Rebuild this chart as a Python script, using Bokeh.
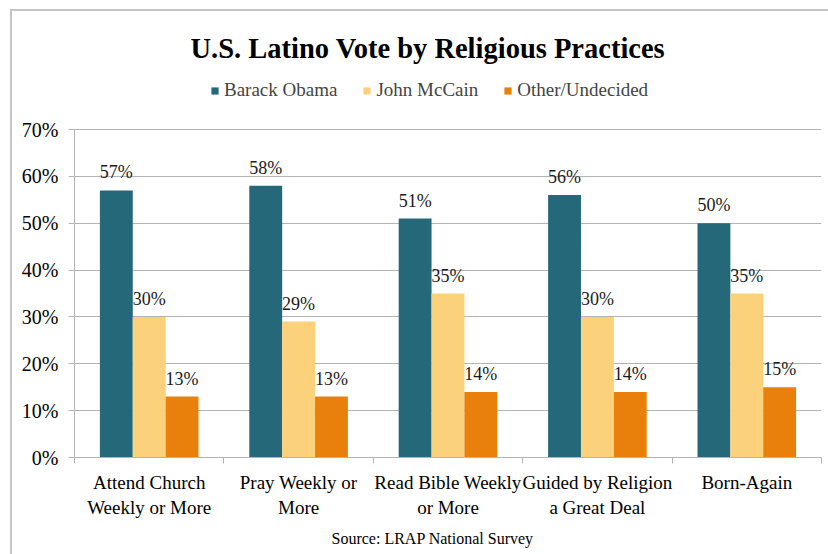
from bokeh.plotting import figure
from bokeh.models import (ColumnDataSource, Range1d, FixedTicker, PrintfTickFormatter,
                          LabelSet, Legend, LegendItem, Title, InlineStyleSheet)
from bokeh.transform import dodge
from bokeh.embed import file_html
from bokeh.resources import INLINE

# ---- data ----
categories = ["Attend Church\nWeekly or More", "Pray Weekly or\nMore",
              "Read Bible Weekly\nor More", "Guided by Religion\na Great Deal",
              "Born-Again"]
series_names = ["Barack Obama", "John McCain", "Other/Undecided"]
obama = [57, 58, 51, 56, 50]
mccain = [30, 29, 35, 30, 35]
other = [13, 13, 14, 14, 15]
y_ticks = [0, 10, 20, 30, 40, 50, 60, 70]
title_text = "U.S. Latino Vote by Religious Practices"
source_text = "Source: LRAP National Survey"

colors = ["#24687A", "#FCD17C", "#E8800B"]
FONT = "Liberation Serif"
GRID = "#B4B4B4"

# ---- layout (pixels) ----
W, H = 828, 554
FRAME_TOP = 63        # frame extends above the 70% line to hold the legend
TOP70 = 129           # pixel row of the 70% gridline
ZERO = 457            # pixel row of the 0% line
y_axis_max = y_ticks[-1]
y_range_end = y_axis_max * (ZERO - FRAME_TOP) / (ZERO - TOP70)

xpos = list(range(1, len(categories) + 1))
src = ColumnDataSource(dict(
    x=xpos,
    obama=obama, mccain=mccain, other=other,
    obama_lbl=[f"{v}%" for v in obama],
    mccain_lbl=[f"{v}%" for v in mccain],
    other_lbl=[f"{v}%" for v in other],
))

# light chart border (top and left edges only), drawn as host background
border_css = InlineStyleSheet(css="""
:host {
  background-color: #FFFFFF;
  background-image: linear-gradient(#C4C4C4, #C4C4C4), linear-gradient(#C4C4C4, #C4C4C4);
  background-position: 10px 9px, 10px 9px;
  background-size: 2px 545px, 818px 2px;
  background-repeat: no-repeat, no-repeat;
}
""")

p = figure(width=W, height=H, output_backend="svg", toolbar_location=None,
           x_range=Range1d(0.5, len(categories) + 0.5), y_range=Range1d(0, y_range_end),
           min_border_left=74, min_border_right=7, min_border_top=FRAME_TOP,
           min_border_bottom=H - ZERO, stylesheets=[border_css])
p.outline_line_color = None
p.background_fill_color = "white"
p.border_fill_alpha = 0

# title
p.title.text = title_text
p.title.text_font = FONT
p.title.text_font_size = "28.5px"
p.title.text_font_style = "bold"
p.title.text_color = "#000000"
p.title.align = "left"
p.title.offset = 116
p.title.standoff = 0

# source note
p.add_layout(Title(text=source_text, align="left", text_font=FONT,
                   text_font_size="16px", text_font_style="normal",
                   text_color="#000000", offset=257, standoff=14), "below")

# bars
fields = ["obama", "mccain", "other"]
offsets = [-0.22, 0.0, 0.22]
renderers = []
for f, off, c in zip(fields, offsets, colors):
    r = p.vbar(x=dodge("x", off), top=f, width=0.22, source=src,
               fill_color=c, line_color=None)
    renderers.append(r)
    lbl = LabelSet(x=dodge("x", off), y=f, text=f + "_lbl", source=src,
                   text_align="center", text_baseline="bottom", y_offset=8,
                   text_font=FONT, text_font_size="18px", text_color="#1a1a1a")
    p.add_layout(lbl)

# legend (inside the upper part of the frame, above the 70% line)
legend = Legend(items=[LegendItem(label=n, renderers=[r]) for n, r in zip(series_names, renderers)],
                orientation="horizontal", location=(136, ZERO - 101),
                glyph_width=9, glyph_height=9, label_standoff=5, spacing=25,
                label_text_font=FONT, label_text_font_size="19px",
                label_height=20, padding=0, margin=0,
                border_line_color=None, background_fill_alpha=0)
p.add_layout(legend, "center")

# y axis
p.yaxis.ticker = FixedTicker(ticks=y_ticks)
p.yaxis.bounds = (0, y_axis_max)
p.yaxis.formatter = PrintfTickFormatter(format="%d%%")
p.yaxis.major_label_text_font = FONT
p.yaxis.major_label_text_font_size = "20px"
p.yaxis.major_label_text_color = "#000000"
p.yaxis.axis_line_color = GRID
p.yaxis.major_tick_line_color = GRID
p.yaxis.major_tick_out = 6
p.yaxis.major_tick_in = 0
p.yaxis.minor_tick_line_color = None
p.yaxis.major_label_standoff = 10

# x axis
p.xaxis.ticker = FixedTicker(ticks=xpos, minor_ticks=[x - 0.5 for x in xpos] + [xpos[-1] + 0.5])
p.xaxis.major_label_overrides = {x: c for x, c in zip(xpos, categories)}
p.xaxis.major_label_text_font = FONT
p.xaxis.major_label_text_font_size = "19px"
p.xaxis.major_label_text_color = "#000000"
p.xaxis.axis_line_color = GRID
p.xaxis.major_tick_line_color = None
p.xaxis.major_tick_out = 0
p.xaxis.major_tick_in = 0
p.xaxis.minor_tick_line_color = GRID
p.xaxis.minor_tick_out = 6
p.xaxis.minor_tick_in = 0
p.xaxis.major_label_standoff = 8

# grid
p.xgrid.grid_line_color = None
p.ygrid.grid_line_color = GRID
p.ygrid.grid_line_width = 1

open("out.html", "w").write(file_html(p, INLINE))
